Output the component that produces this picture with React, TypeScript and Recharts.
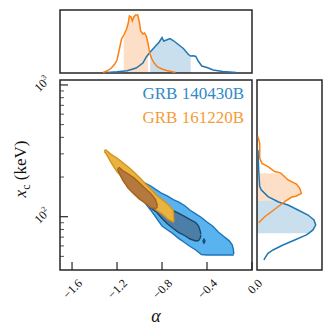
import React from "react";
import { Area, ComposedChart, Line, ReferenceArea, XAxis, YAxis } from "recharts";

const FONT = "'Liberation Serif', 'DejaVu Serif', serif";

// axis ranges
const A_MIN = -1.707;
const A_MAX = 0;
const XC_MIN = 39.4;
const XC_MAX = 1090;

const alphaTicks = [-1.6, -1.2, -0.8, -0.4, 0.0];
const xcMajor = [100, 1000];
const xcMinor = [50, 60, 70, 80, 90, 200, 300, 400, 500, 600, 700, 800, 900];

// contours: [alpha, lower xc, upper xc] (keV)
const blueOuter = [
  [-1.06, 176, 180], [-1.05, 165, 195], [-1.0, 141, 190], [-0.95, 127, 180], [-0.9, 112, 171],
  [-0.85, 97.8, 160], [-0.8, 85, 150], [-0.75, 79.3, 143.5], [-0.7, 74, 135], [-0.65, 68.2, 129],
  [-0.6, 63.7, 121.6], [-0.55, 59.4, 112], [-0.5, 55.9, 105], [-0.45, 51.6, 98.6], [-0.4, 51.2, 91.1],
  [-0.35, 51.2, 85], [-0.3, 51.2, 76.5], [-0.25, 51.2, 70.8], [-0.2, 51.2, 65.3], [-0.175, 51.2, 61],
  [-0.165, 51.2, 56], [-0.162, 51.2, 52],
];
const blueInner = [
  [-0.95, 140, 147], [-0.9, 116.4, 143.6], [-0.85, 108.6, 134], [-0.8, 96.9, 123.8], [-0.75, 88, 117.5],
  [-0.7, 81.3, 111.4], [-0.65, 75.8, 105.8], [-0.6, 72, 100.4], [-0.55, 67.7, 95.2], [-0.5, 65.4, 90.4],
  [-0.475, 65.9, 85], [-0.46, 68.9, 77.8], [-0.455, 72.5, 73.5],
];
const blueIsland = [[-0.437, 65.2, 65.4], [-0.427, 63, 67.5], [-0.417, 65.2, 65.4]];
const orangeOuter = [
  [-1.315, 312, 315], [-1.3, 303, 322], [-1.25, 255, 296], [-1.2, 219, 279], [-1.15, 197, 258],
  [-1.1, 174, 238], [-1.05, 155, 218], [-1.0, 139, 198], [-0.95, 128, 179], [-0.9, 120, 162],
  [-0.85, 112, 146], [-0.8, 105, 135], [-0.75, 96, 125], [-0.7, 91, 112], [-0.693, 91, 93],
];
const orangeInner = [
  [-1.195, 229, 231], [-1.18, 214, 236], [-1.15, 189, 224], [-1.1, 164, 211], [-1.05, 149, 197],
  [-1.0, 136, 180], [-0.95, 127, 164], [-0.9, 117, 150], [-0.86, 115, 136], [-0.845, 117.5, 125],
  [-0.842, 120, 121],
];

// marginal of alpha: [alpha, density]
const orangeTop = [
  [-1.325, 0.5], [-1.29, 2], [-1.25, 5], [-1.22, 9], [-1.2, 13], [-1.175, 26], [-1.16, 34], [-1.14, 38],
  [-1.115, 44], [-1.1, 50], [-1.09, 57], [-1.075, 56], [-1.064, 52], [-1.05, 56], [-1.035, 58],
  [-1.016, 58], [-1.0, 50], [-0.99, 42], [-0.97, 39], [-0.955, 40], [-0.94, 37], [-0.925, 30],
  [-0.91, 20], [-0.89, 14], [-0.87, 10], [-0.84, 6], [-0.8, 4], [-0.76, 2.5], [-0.72, 1.5], [-0.68, 0.5],
];
const blueTop = [
  [-1.29, 0.5], [-1.2, 1.2], [-1.11, 2.3], [-1.03, 5], [-0.97, 10], [-0.94, 16], [-0.905, 21],
  [-0.865, 26], [-0.825, 31], [-0.8, 35.5], [-0.785, 32], [-0.76, 33], [-0.73, 34.5], [-0.7, 32.5],
  [-0.655, 28.5], [-0.61, 24.5], [-0.565, 18.5], [-0.545, 17], [-0.52, 17.2], [-0.5, 16.5],
  [-0.478, 12], [-0.447, 7], [-0.4, 5.5], [-0.345, 3], [-0.26, 1.5], [-0.14, 0.5],
];
const orangeAlphaCI = [-1.14, -0.925];
const blueAlphaCI = [-0.905, -0.545];

// marginal of xc: [xc, density]
const orangeRight = [
  [405, 1], [361, 2.7], [278, 2.7], [254, 5], [240, 11], [220, 17.7], [216, 22.7], [213.6, 24],
  [201, 27.7], [190, 31], [184.5, 34.4], [177, 39.4], [164, 42.7], [150.5, 44.4], [143.6, 39.4],
  [140.4, 34.4], [131.6, 28.8], [130, 27.7], [119, 21], [109, 14.4], [100, 7.7], [91.6, 2.7], [90, 1.7],
];
const blueRight = [
  [321, 1], [226, 1.7], [169, 2.7], [159.5, 4.4], [142, 11], [131.6, 19.6], [130, 21], [122.7, 31],
  [112.4, 41], [103, 51], [94.4, 57], [86.5, 58.7], [79.3, 56], [74.8, 51.6], [72.7, 49.4],
  [66.6, 37.7], [61, 26], [55.9, 16], [52.7, 11], [48.3, 7.7], [46.9, 7],
];
const orangeXcCI = [131.6, 213.6];
const blueXcCI = [74.8, 131.6];

const BLUE = "#1f77b4";
const ORANGE = "#ff7f0e";
const FRAME = "#262626";

const band = (rows: number[][]) => rows.map(([a, lo, hi]) => ({ a, r: [lo, hi] }));
const topRows = (rows: number[][]) => rows.map(([a, d]) => ({ a, d }));
const rightRows = (rows: number[][]) => rows.map(([xc, d]) => ({ xc, d }));
const within = (rows: any[], key: string, [lo, hi]: number[]) =>
  rows.filter((r) => r[key] >= lo - 1e-9 && r[key] <= hi + 1e-9);

function AlphaTick({ x, y, payload }: any) {
  const v = payload.value;
  const label = (v < 0 ? "\u2212" : "") + Math.abs(v).toFixed(1);
  const tx = x + 11;
  const ty = y + 14;
  return (
    <g>
      <line x1={x} x2={x} y1={y} y2={y - 8} stroke={FRAME} strokeWidth={1.2} />
      <text x={tx} y={ty} transform={`rotate(-45, ${tx}, ${ty})`} textAnchor="end" fontSize={12} fontFamily={FONT} fill="#111">
        {label}
      </text>
    </g>
  );
}

function XcTick({ x, y, payload }: any) {
  const v = payload.value;
  const major = xcMajor.includes(v);
  const tx = x - 15;
  const ty = y + 2;
  return (
    <g>
      <line x1={x} x2={x + (major ? 8 : 4)} y1={y} y2={y} stroke={FRAME} strokeWidth={major ? 1.2 : 0.8} />
      {major && (
        <text x={tx} y={ty} transform={`rotate(-45, ${tx}, ${ty})`} textAnchor="middle" fontSize={12} fontFamily={FONT} fill="#111">
          10
          <tspan dy={-5} fontSize={8}>
            {Math.round(Math.log10(v))}
          </tspan>
        </text>
      )}
    </g>
  );
}

function AlphaLabel(props: any) {
  const vb = props.viewBox || { x: 60, y: 270, width: 192, height: 50 };
  return (
    <text x={vb.x + vb.width / 2} y={vb.y + 52} textAnchor="middle" fontSize={18} fontStyle="italic" fontFamily={FONT} fill="#111">
      α
    </text>
  );
}

function XcLabel(props: any) {
  const vb = props.viewBox || { x: 10, y: 80, width: 50, height: 190 };
  const cx = vb.x + 16;
  const cy = vb.y + vb.height / 2 - 6;
  return (
    <text x={cx} y={cy} transform={`rotate(-90, ${cx}, ${cy})`} textAnchor="middle" fontSize={17} fontFamily={FONT} fill="#111">
      <tspan fontStyle="italic">x</tspan>
      <tspan dy={4} fontSize={12}>c</tspan>
      <tspan dy={-4}> (keV)</tspan>
    </text>
  );
}

export default function App() {
  const oTop = topRows(orangeTop);
  const bTop = topRows(blueTop);
  const oRight = rightRows(orangeRight);
  const bRight = rightRows(blueRight);

  return (
    <div style={{ position: "absolute", left: 0, top: 0, width: 332, height: 336, background: "#fff" }}>
      <div style={{ position: "absolute", left: 0, top: 0 }}>
        <ComposedChart width={332} height={336} margin={{ top: 80, right: 80, bottom: 16, left: 10 }}>
          <XAxis
            type="number"
            dataKey="a"
            domain={[A_MIN, A_MAX]}
            allowDataOverflow
            ticks={alphaTicks}
            interval={0}
            tick={<AlphaTick />}
            tickLine={false}
            axisLine={false}
            tickSize={0}
            tickMargin={0}
            height={50}
            label={(p: any) => <AlphaLabel {...p} />}
          />
          <YAxis
            type="number"
            scale="log"
            domain={[XC_MIN, XC_MAX]}
            allowDataOverflow
            ticks={[...xcMinor, ...xcMajor]}
            interval={0}
            tick={<XcTick />}
            tickLine={false}
            axisLine={false}
            tickSize={0}
            tickMargin={0}
            width={50}
            label={(p: any) => <XcLabel {...p} />}
          />
          <Area data={band(blueOuter)} dataKey="r" type="linear" fill="#58b3ee" fillOpacity={1} stroke="#1f73b8" strokeWidth={1.4} isAnimationActive={false} />
          <Area data={band(blueInner)} dataKey="r" type="linear" fill="#4c7ea8" fillOpacity={1} stroke="#1b476c" strokeWidth={1.4} isAnimationActive={false} />
          <Area data={band(blueIsland)} dataKey="r" type="linear" fill="#4c7ea8" fillOpacity={1} stroke="#1b476c" strokeWidth={1.4} isAnimationActive={false} />
          <Area data={band(orangeOuter)} dataKey="r" type="linear" fill="#e8b33f" fillOpacity={1} stroke="#d8921e" strokeWidth={1.4} isAnimationActive={false} />
          <Area data={band(orangeInner)} dataKey="r" type="linear" fill="#b4793c" fillOpacity={1} stroke="#a5621d" strokeWidth={1.4} isAnimationActive={false} />
          <ReferenceArea x1={A_MIN} x2={A_MAX} y1={XC_MIN} y2={XC_MAX} fill="none" stroke={FRAME} strokeWidth={1.5} ifOverflow="visible" />
        </ComposedChart>
      </div>

      <div style={{ position: "absolute", left: 58, top: 8 }}>
        <ComposedChart width={196} height={67} margin={{ top: 2, right: 2, bottom: 2, left: 2 }}>
          <XAxis type="number" dataKey="a" domain={[A_MIN, A_MAX]} allowDataOverflow hide height={0} />
          <YAxis type="number" domain={[0, 63]} allowDataOverflow hide width={0} />
          <Area data={within(oTop, "a", orangeAlphaCI)} dataKey="d" type="linear" fill="#fddfc7" fillOpacity={1} stroke="none" isAnimationActive={false} />
          <Area data={within(bTop, "a", blueAlphaCI)} dataKey="d" type="linear" fill="#cadfee" fillOpacity={1} stroke="none" isAnimationActive={false} />
          <Line data={bTop} dataKey="d" type="linear" stroke={BLUE} strokeWidth={1.5} dot={false} isAnimationActive={false} />
          <Line data={oTop} dataKey="d" type="linear" stroke={ORANGE} strokeWidth={1.5} dot={false} isAnimationActive={false} />
          <ReferenceArea x1={A_MIN} x2={A_MAX} y1={0} y2={63} fill="none" stroke={FRAME} strokeWidth={1.5} ifOverflow="visible" />
        </ComposedChart>
      </div>

      <div style={{ position: "absolute", left: 255, top: 78 }}>
        <ComposedChart layout="vertical" width={69} height={194} margin={{ top: 2, right: 2, bottom: 2, left: 2 }}>
          <XAxis type="number" domain={[0, 65]} allowDataOverflow hide height={0} />
          <YAxis type="number" dataKey="xc" scale="log" domain={[XC_MIN, XC_MAX]} reversed allowDataOverflow hide width={0} />
          <Area data={within(oRight, "xc", orangeXcCI)} dataKey="d" type="linear" fill="#fddfc7" fillOpacity={1} stroke="none" isAnimationActive={false} />
          <Area data={within(bRight, "xc", blueXcCI)} dataKey="d" type="linear" fill="#cadfee" fillOpacity={1} stroke="none" isAnimationActive={false} />
          <Line data={bRight} dataKey="d" type="linear" stroke={BLUE} strokeWidth={1.5} dot={false} isAnimationActive={false} />
          <Line data={oRight} dataKey="d" type="linear" stroke={ORANGE} strokeWidth={1.5} dot={false} isAnimationActive={false} />
          <ReferenceArea x1={0} x2={65} y1={XC_MIN} y2={XC_MAX} fill="none" stroke={FRAME} strokeWidth={1.5} ifOverflow="visible" />
        </ComposedChart>
      </div>

      <svg width={332} height={336} style={{ position: "absolute", left: 0, top: 0, pointerEvents: "none" }}>
        <text x={244} y={99} textAnchor="end" fontSize={17} fontFamily={FONT} fill="#3189c9">
          GRB 140430B
        </text>
        <text x={244} y={123} textAnchor="end" fontSize={17} fontFamily={FONT} fill="#f39c3a">
          GRB 161220B
        </text>
      </svg>
    </div>
  );
}
